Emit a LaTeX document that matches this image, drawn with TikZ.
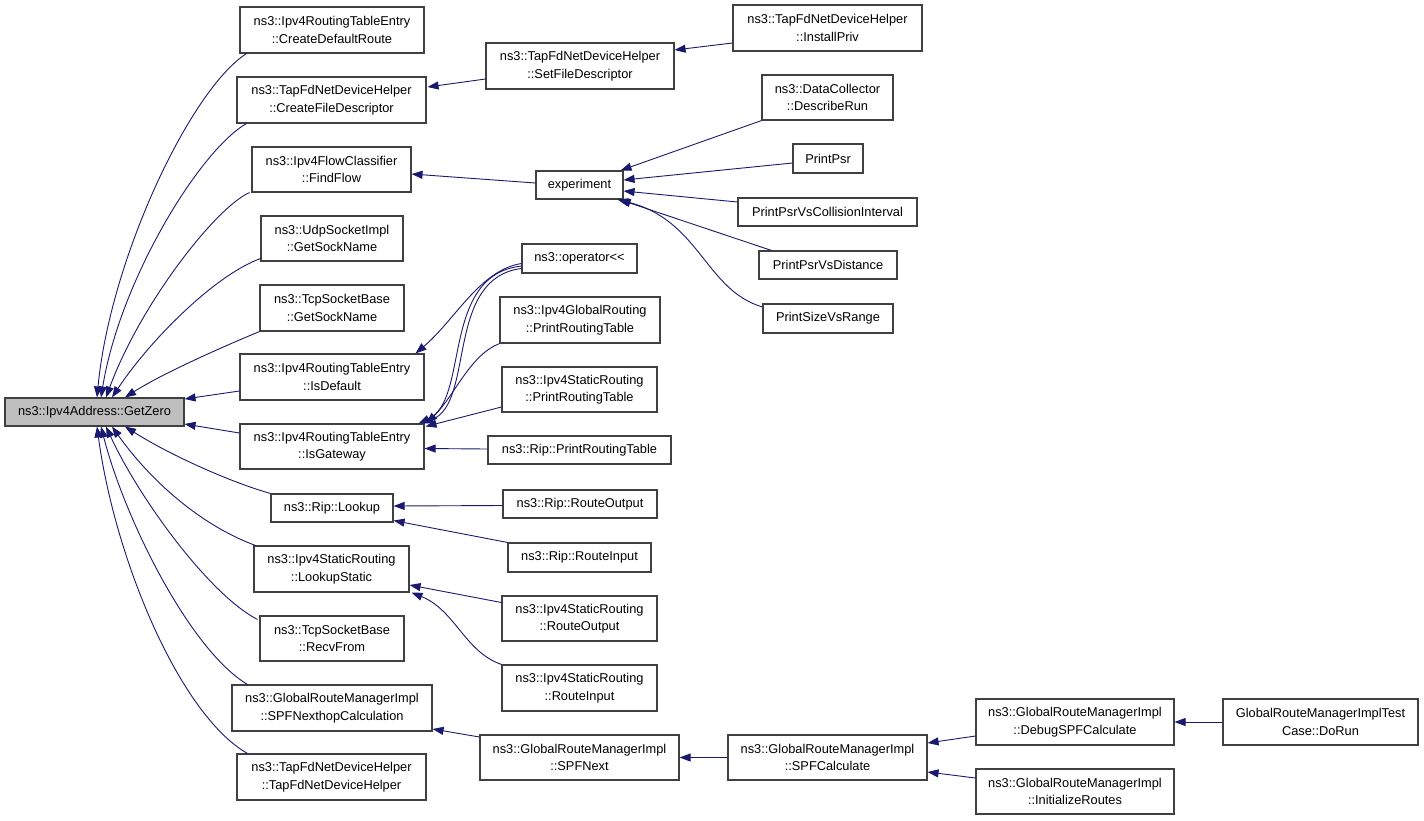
\documentclass[tikz,border=0pt]{standalone}
\usepackage{fontspec}
\setmainfont{Liberation Sans}
\usetikzlibrary{arrows.meta,calc}
\definecolor{edgec}{HTML}{191970}
\definecolor{boxc}{HTML}{404040}
\definecolor{gzfill}{HTML}{BFBFBF}
\begin{document}
\begin{tikzpicture}[x=1pt,y=-1pt,
  fn/.style={draw=boxc, line width=1.1pt, rectangle, inner sep=0pt, align=center,
    font=\fontsize{12.8}{17.5}\selectfont},
  edge/.style={draw=edgec, line width=0.9pt, -{Triangle[length=11pt,width=8pt]}}]
\useasboundingbox (0,0) rectangle (1424,820);
% nodes
\node[fn, fill=gzfill, minimum width=179, minimum height=28] (gz) at (94.5,412) {ns3::Ipv4Address::GetZero};
\node[fn, minimum width=184, minimum height=46] (cdr) at (332,30) {ns3::Ipv4RoutingTableEntry\\::CreateDefaultRoute};
\node[fn, minimum width=189, minimum height=46] (cfd) at (331.5,100) {ns3::TapFdNetDeviceHelper\\::CreateFileDescriptor};
\node[fn, minimum width=159, minimum height=45] (ff) at (331.5,169.5) {ns3::Ipv4FlowClassifier\\::FindFlow};
\node[fn, minimum width=142, minimum height=45] (usi) at (332,238.5) {ns3::UdpSocketImpl\\::GetSockName};
\node[fn, minimum width=144, minimum height=46] (tsg) at (332,308) {ns3::TcpSocketBase\\::GetSockName};
\node[fn, minimum width=184, minimum height=46] (isd) at (332,377) {ns3::Ipv4RoutingTableEntry\\::IsDefault};
\node[fn, minimum width=184, minimum height=45] (isg) at (332,446.5) {ns3::Ipv4RoutingTableEntry\\::IsGateway};
\node[fn, minimum width=122, minimum height=28] (rl) at (332,508) {ns3::Rip::Lookup};
\node[fn, minimum width=155, minimum height=46] (ls) at (331.5,569) {ns3::Ipv4StaticRouting\\::LookupStatic};
\node[fn, minimum width=144, minimum height=45] (rf) at (332,638.5) {ns3::TcpSocketBase\\::RecvFrom};
\node[fn, minimum width=200, minimum height=46] (spfnh) at (332,708) {ns3::GlobalRouteManagerImpl\\::SPFNexthopCalculation};
\node[fn, minimum width=189, minimum height=46] (tfh) at (331.5,777) {ns3::TapFdNetDeviceHelper\\::TapFdNetDeviceHelper};
\node[fn, minimum width=189, minimum height=46] (ip) at (827.5,28) {ns3::TapFdNetDeviceHelper\\::InstallPriv};
\node[fn, minimum width=188, minimum height=46] (sfd) at (580,66) {ns3::TapFdNetDeviceHelper\\::SetFileDescriptor};
\node[fn, minimum width=131, minimum height=45] (dr) at (827.5,97.5) {ns3::DataCollector\\::DescribeRun};
\node[fn, minimum width=70, minimum height=29] (pp) at (828,158.5) {PrintPsr};
\node[fn, minimum width=87, minimum height=28] (exp) at (579.5,185) {experiment};
\node[fn, minimum width=179, minimum height=28] (ppci) at (827.5,212) {PrintPsrVsCollisionInterval};
\node[fn, minimum width=138, minimum height=28] (ppd) at (828,265) {PrintPsrVsDistance};
\node[fn, minimum width=130, minimum height=29] (psr) at (828,318.5) {PrintSizeVsRange};
\node[fn, minimum width=115, minimum height=29] (op) at (579.5,258.5) {ns3::operator<{}<};
\node[fn, minimum width=160, minimum height=46] (igprt) at (580,320) {ns3::Ipv4GlobalRouting\\::PrintRoutingTable};
\node[fn, minimum width=155, minimum height=45] (isprt) at (579.5,389.5) {ns3::Ipv4StaticRouting\\::PrintRoutingTable};
\node[fn, minimum width=183, minimum height=28] (rprt) at (579.5,450) {ns3::Rip::PrintRoutingTable};
\node[fn, minimum width=154, minimum height=28] (rro) at (580,504) {ns3::Rip::RouteOutput};
\node[fn, minimum width=143, minimum height=29] (rri) at (579.5,557.5) {ns3::Rip::RouteInput};
\node[fn, minimum width=155, minimum height=45] (isro) at (579.5,618.5) {ns3::Ipv4StaticRouting\\::RouteOutput};
\node[fn, minimum width=155, minimum height=46] (isri) at (579.5,688) {ns3::Ipv4StaticRouting\\::RouteInput};
\node[fn, minimum width=199, minimum height=45] (spfn) at (579.5,757.5) {ns3::GlobalRouteManagerImpl\\::SPFNext};
\node[fn, minimum width=199, minimum height=45] (spfc) at (827.5,757.5) {ns3::GlobalRouteManagerImpl\\::SPFCalculate};
\node[fn, minimum width=198, minimum height=46] (dspf) at (1075,722) {ns3::GlobalRouteManagerImpl\\::DebugSPFCalculate};
\node[fn, minimum width=198, minimum height=45] (ir) at (1075,791.5) {ns3::GlobalRouteManagerImpl\\::InitializeRoutes};
\node[fn, minimum width=195, minimum height=46] (dorun) at (1320.5,722) {GlobalRouteManagerImplTest\\Case::DoRun};
% edges into GetZero (top)
\draw[edge] ($(cdr.south west)+(7,0)$) .. controls (190,90) and (110,260) .. ($(gz.north)+(2.5,0)$);
\draw[edge] ($(cfd.south west)+(10,0)$) .. controls (200,150) and (120,280) .. ($(gz.north)+(6.5,0)$);
\draw[edge] ($(ff.south west)+(-2,0)$) .. controls (215,208) and (140,305) .. ($(gz.north)+(11.5,0)$);
\draw[edge] ($(usi.south west)+(0,-3)$) .. controls (215,275) and (150,340) .. ($(gz.north)+(17.5,0)$);
\draw[edge] (tsg.south west) .. controls (215,350) and (160,375) .. ($(gz.north)+(30.5,0)$);
\draw[edge] ($(isd.west)+(0,14)$) -- ($(gz.east)+(0,-13)$);
\draw[edge] ($(isg.west)+(0,-13.5)$) -- ($(gz.east)+(0,12)$);
% edges into GetZero (bottom)
\draw[edge] (rl.north west) .. controls (230,482) and (170,455) .. ($(gz.south)+(30.5,0)$);
\draw[edge] ($(ls.north west)+(2,0)$) .. controls (200,525) and (150,480) .. ($(gz.south)+(17.5,0)$);
\draw[edge] ($(rf.north west)+(-2,4)$) .. controls (210,595) and (140,500) .. ($(gz.south)+(11.5,0)$);
\draw[edge] ($(spfnh.north west)+(16,0)$) .. controls (190,650) and (125,520) .. ($(gz.south)+(6.5,0)$);
\draw[edge] ($(tfh.north west)+(11,0)$) .. controls (180,715) and (115,560) .. ($(gz.south)+(2.5,0)$);
% other edges
\draw[edge] ($(sfd.west)+(0,13)$) -- ($(cfd.east)+(1,-13)$);
\draw[edge] ($(ip.west)+(0,15)$) -- ($(sfd.east)+(0,-16)$);
\draw[edge] ($(exp.west)+(0,-2)$) -- ($(ff.east)+(0,4.5)$);
\draw[edge] (dr.south west) -- ($(exp.north east)+(-3,0)$);
\draw[edge] ($(pp.west)+(0,4.5)$) -- ($(exp.east)+(0,-5)$);
\draw[edge] ($(ppci.west)+(0,-10)$) -- ($(exp.east)+(0,6)$);
\draw[edge] ($(ppd.north west)+(13,0)$) -- ($(exp.south east)+(-4,0)$);
\draw[edge] ($(psr.west)+(0,-11.5)$) .. controls (705,290) and (700,220) .. ($(exp.south east)+(-6,0)$);
\draw[edge] ($(op.west)+(0,5)$) .. controls (480,270) and (455,320) .. ($(isd.north east)+(-9,0)$);
\draw[edge] ($(op.west)+(0,7.5)$) .. controls (440,275) and (470,400) .. ($(isg.north east)+(-6,0)$);
\draw[edge] ($(op.west)+(0,10)$) .. controls (445,278) and (475,402) .. ($(isg.north east)+(-2,0)$);
\draw[edge] (igprt.south west) .. controls (470,355) and (455,395) .. ($(isg.north east)+(2,0)$);
\draw[edge] ($(isprt.west)+(0,17.5)$) -- ($(isg.north east)+(1,3)$);
\draw[edge] ($(rprt.west)+(0,-1)$) -- ($(isg.east)+(0,2)$);
\draw[edge] ($(rro.west)+(0,1.5)$) -- ($(rl.east)+(0,-2)$);
\draw[edge] (rri.north west) -- ($(rl.south east)+(0,-2)$);
\draw[edge] ($(isro.west)+(0,-16)$) -- ($(ls.east)+(0,16)$);
\draw[edge] (isri.north west) .. controls (465,652) and (455,610) .. ($(ls.south east)+(2,0)$);
\draw[edge] ($(spfn.west)+(0,-20.5)$) -- ($(spfnh.east)+(0,21)$);
\draw[edge] (spfc.west) -- (spfn.east);
\draw[edge] ($(dspf.west)+(0,14)$) -- ($(spfc.east)+(0,-14.5)$);
\draw[edge] ($(ir.west)+(0,-13.5)$) -- ($(spfc.east)+(0,14.5)$);
\draw[edge] (dorun.west) -- (dspf.east);
\end{tikzpicture}
\end{document}
